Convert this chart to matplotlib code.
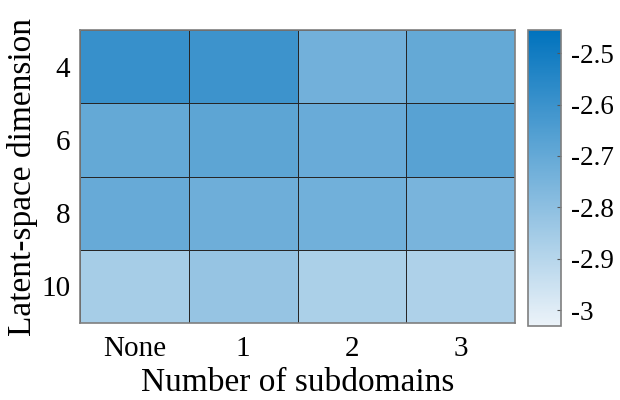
import matplotlib
matplotlib.use('Agg')
import matplotlib.pyplot as plt
import numpy as np
from matplotlib.colors import LinearSegmentedColormap

plt.rcParams['font.family'] = ['Liberation Serif', 'DejaVu Serif']

# data
subdomains = ['None', '1', '2', '3']
latent_dims = ['4', '6', '8', '10']
row_4 = [-2.589, -2.604, -2.733, -2.699]
row_6 = [-2.699, -2.680, -2.711, -2.670]
row_8 = [-2.706, -2.723, -2.731, -2.750]
row_10 = [-2.858, -2.821, -2.872, -2.880]
vmin, vmax = -3.031, -2.455
cbar_ticks = [-3, -2.9, -2.8, -2.7, -2.6, -2.5]
cbar_labels = ['-3', '-2.9', '-2.8', '-2.7', '-2.6', '-2.5']

Z = np.array([row_4, row_6, row_8, row_10])

# matlab-ish heatmap blues
cmap = LinearSegmentedColormap.from_list('mblues', [(0.925, 0.953, 0.976), (0.0, 0.447, 0.741)])

fig = plt.figure(figsize=(6.2, 4.0), dpi=100)
ax = fig.add_axes([80/620, 77/400, 435/620, 293/400])
cax = fig.add_axes([528/620, 74/400, 33/620, 296/400])

mesh = ax.pcolormesh(Z, cmap=cmap, vmin=vmin, vmax=vmax,
                     edgecolors='#262626', linewidth=0.6)
ax.set_xlim(0, 4)
ax.set_ylim(4, 0)
ax.set_xticks(np.arange(4) + 0.5)
ax.set_xticklabels(subdomains)
ax.set_yticks(np.arange(4) + 0.5)
ax.set_yticklabels(latent_dims)
ax.tick_params(length=0, labelsize=21)
ax.tick_params(axis='x', pad=9)
ax.tick_params(axis='y', pad=7)
for s in ax.spines.values():
    s.set_color('#7f7f7f')
    s.set_linewidth(1.2)
ax.set_xlabel('Number of subdomains', fontsize=24, labelpad=4)
ax.set_ylabel('Latent-space dimension', fontsize=24, labelpad=2)

cb = fig.colorbar(mesh, cax=cax)
cb.set_ticks(cbar_ticks)
cb.set_ticklabels(cbar_labels)
cax.tick_params(direction='in', length=3, labelsize=19.5, color='#555555', pad=7)
cb.outline.set_edgecolor('#7f7f7f')
cb.outline.set_linewidth(1.2)

plt.savefig('out.png', dpi=100)
